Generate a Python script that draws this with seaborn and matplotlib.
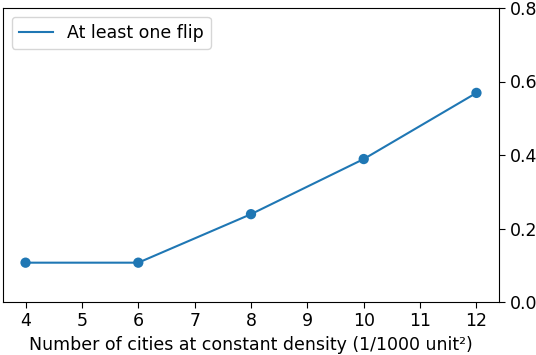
import numpy as np
import pandas as pd
import matplotlib
matplotlib.use("Agg")
import matplotlib.pyplot as plt
import seaborn as sns

# data
n_cities = [4, 6, 8, 10, 12]
flip_rate = [0.107, 0.107, 0.239, 0.389, 0.569]

df = pd.DataFrame({"n": n_cities, "flip": flip_rate})

# plain matplotlib look (black text, thin spines)
plt.rcParams["font.family"] = ["DejaVu Sans"]
plt.rcParams["font.size"] = 12.5

fig = plt.figure(figsize=(5.36, 3.55), dpi=100)
ax = fig.add_axes([3 / 536, 1 - 302 / 355, 496 / 536, 294 / 355])

sns.lineplot(data=df, x="n", y="flip", color="C0", label="At least one flip", ax=ax)
sns.scatterplot(data=df, x="n", y="flip", color="C0", s=55, edgecolor="none", ax=ax, legend=False)

ax.set_ylim(0, 0.8)
ax.set_yticks([0.0, 0.2, 0.4, 0.6, 0.8])
ax.set_xticks(range(4, 13))
ax.yaxis.tick_right()
ax.set_ylabel("")
ax.set_xlabel("Number of cities at constant density (1/1000 unit²)", fontsize=12.5)
ax.tick_params(labelsize=12.5, length=4)
ax.legend(loc="upper left", fontsize=12.5)

fig.savefig("out.png", dpi=100)
